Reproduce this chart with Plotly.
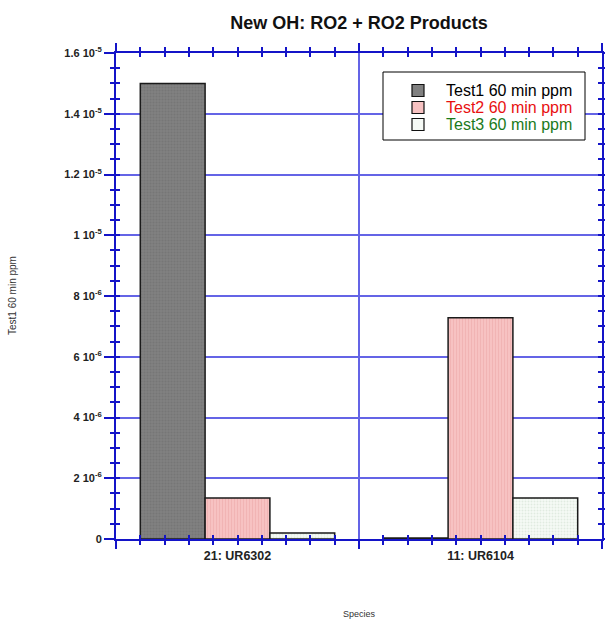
import plotly.graph_objects as go

# Species on the x axis and their 60-minute concentrations (ppm) per test
categories = ["21: UR6302", "11: UR6104"]
test1_ppm = [1.5e-5, 3e-8]
test2_ppm = [1.35e-6, 7.28e-6]
test3_ppm = [2.0e-7, 1.35e-6]

series_names = ["Test1 60 min ppm", "Test2 60 min ppm", "Test3 60 min ppm"]
label_colors = ["#000000", "#e81010", "#1b7a1b"]

y_tick_vals = [0, 2e-6, 4e-6, 6e-6, 8e-6, 1e-5, 1.2e-5, 1.4e-5, 1.6e-5]
y_tick_text = ["0", "2 10<sup>-6</sup>", "4 10<sup>-6</sup>", "6 10<sup>-6</sup>",
               "8 10<sup>-6</sup>", "1 10<sup>-5</sup>", "1.2 10<sup>-5</sup>",
               "1.4 10<sup>-5</sup>", "1.6 10<sup>-5</sup>"]

FONT = "Liberation Sans, Arial, sans-serif"
AXIS_BLUE = "#1414c8"
GRID_BLUE = "#6464e6"

W, H = 605, 619
M_L, M_R, M_T, M_B = 116, 3, 53, 80
PLOT_W = W - M_L - M_R
PLOT_H = H - M_T - M_B


def px_x(px):
    """Pixel column -> paper x."""
    return (px - M_L) / PLOT_W


def px_y(py):
    """Pixel row -> paper y."""
    return (H - M_B - py) / PLOT_H


x_pos = list(range(len(categories)))
x_range = [-0.5, len(categories) - 0.5]
boundaries = [i - 0.5 for i in range(len(categories) + 1)]
tenths = [round(-0.5 + k * 0.1, 2) for k in range(1, 10 * len(categories))]
minor_x = [v for v in tenths if v not in boundaries]
minor_x_no_centres = [v for v in minor_x if v not in x_pos]

styles = [
    dict(bgcolor="#808080", fgcolor="#6c6c6c", shape=".", size=3, solidity=0.35),
    dict(bgcolor="#f7c2c2", fgcolor="#eaa3a3", shape="|", size=3, solidity=0.3),
    dict(bgcolor="#f6faf6", fgcolor="#c9dcc9", shape=".", size=3, solidity=0.35),
]

fig = go.Figure()
for name, vals, st in zip(series_names, [test1_ppm, test2_ppm, test3_ppm], styles):
    fig.add_trace(go.Bar(
        x=x_pos, y=vals, name=name, showlegend=False,
        marker=dict(color=st["bgcolor"], pattern=st,
                    line=dict(color="#1a1a1a", width=1.5)),
    ))

# companion axes that carry the inward-pointing ticks and the category dividers
fig.add_trace(go.Scatter(x=[None], y=[None], xaxis="x2", yaxis="y2",
                         showlegend=False, hoverinfo="skip"))

# legend box: frame, swatches and coloured labels
shapes = [dict(type="rect", xref="paper", yref="paper",
               x0=px_x(383), x1=px_x(585), y0=px_y(140), y1=px_y(72),
               line=dict(color="#000000", width=1), fillcolor="white", layer="above")]
annotations = []
row_y = [90.5, 107.5, 124.5]
for name, col, st, ry in zip(series_names, label_colors, styles, row_y):
    shapes.append(dict(type="rect", xref="paper", yref="paper",
                       x0=px_x(412), x1=px_x(424), y0=px_y(ry + 6), y1=px_y(ry - 6),
                       line=dict(color="#111111", width=1.2),
                       fillcolor=st["bgcolor"], layer="above"))
    annotations.append(dict(text=name, xref="paper", yref="paper",
                            x=px_x(444), y=px_y(ry), xanchor="left", yanchor="middle",
                            showarrow=False,
                            font=dict(family=FONT, size=16, color=col)))

annotations += [
    dict(text="Test1 60 min ppm", xref="paper", yref="paper",
         x=px_x(12), y=0.5, textangle=-90, showarrow=False,
         xanchor="center", yanchor="middle",
         font=dict(family=FONT, size=10, color="#333333")),
    dict(text="Species", xref="paper", yref="paper",
         x=0.5, y=px_y(614), showarrow=False,
         xanchor="center", yanchor="middle",
         font=dict(family=FONT, size=9, color="#333333")),
]

tick_font_y = dict(family=FONT, size=11, color="#222222", weight="bold")
tick_font_x = dict(family=FONT, size=12.5, color="#222222", weight="bold")

fig.update_layout(
    width=W, height=H,
    margin=dict(l=M_L, r=M_R, t=M_T, b=M_B, autoexpand=False),
    paper_bgcolor="white", plot_bgcolor="white",
    barmode="group", bargap=0.2, bargroupgap=0,
    showlegend=False,
    title=dict(text="<b>New OH: RO2 + RO2 Products</b>", x=0.5, xref="paper",
               y=1 - 23 / H, yref="container", yanchor="middle", xanchor="center",
               font=dict(family=FONT, size=18, color="#111111"),
               automargin=False),
    xaxis=dict(
        range=x_range, tickmode="array", tickvals=x_pos, ticktext=categories,
        tickfont=tick_font_x, ticks="outside", ticklen=4, tickwidth=1.5,
        tickcolor=AXIS_BLUE, showline=True, linecolor=AXIS_BLUE, linewidth=2,
        mirror="ticks", showgrid=False, zeroline=False, automargin=False,
        minor=dict(tickmode="array", tickvals=minor_x_no_centres, ticks="outside",
                   ticklen=4, tickwidth=1.5, tickcolor=AXIS_BLUE, showgrid=False),
    ),
    xaxis2=dict(
        overlaying="x", anchor="y2", side="bottom", range=x_range,
        tickmode="array", tickvals=boundaries, showticklabels=False,
        ticks="outside", ticklen=8, tickwidth=2, tickcolor=AXIS_BLUE,
        showline=True, linecolor=AXIS_BLUE, linewidth=2, mirror="ticks",
        showgrid=True, gridcolor=GRID_BLUE, gridwidth=2, zeroline=False,
        automargin=False,
        minor=dict(tickmode="array", tickvals=minor_x, ticks="inside",
                   ticklen=4, tickwidth=1.5, tickcolor=AXIS_BLUE, showgrid=False),
    ),
    yaxis=dict(
        range=[0, 1.6e-5], tickmode="array", tickvals=y_tick_vals,
        ticktext=y_tick_text, tickfont=tick_font_y, ticks="outside", ticklen=10,
        tickwidth=1.5, tickcolor=AXIS_BLUE, showline=True, linecolor=AXIS_BLUE,
        linewidth=2, mirror="ticks", showgrid=True, gridcolor=GRID_BLUE,
        gridwidth=2, zeroline=False, automargin=False,
        minor=dict(dtick=5e-7, tick0=0, ticks="outside", ticklen=4, tickwidth=1.5,
                   tickcolor=AXIS_BLUE, showgrid=False),
    ),
    yaxis2=dict(
        overlaying="y", anchor="x2", side="left", range=[0, 1.6e-5],
        tickmode="array", tickvals=y_tick_vals, showticklabels=False,
        ticks="inside", ticklen=4, tickwidth=1.5, tickcolor=AXIS_BLUE,
        showline=True, linecolor=AXIS_BLUE, linewidth=2, mirror="ticks",
        showgrid=False, zeroline=False, automargin=False,
        minor=dict(dtick=5e-7, tick0=0, ticks="inside", ticklen=4, tickwidth=1.5,
                   tickcolor=AXIS_BLUE, showgrid=False),
    ),
    shapes=shapes,
    annotations=annotations,
)

fig.write_html("out.html")
